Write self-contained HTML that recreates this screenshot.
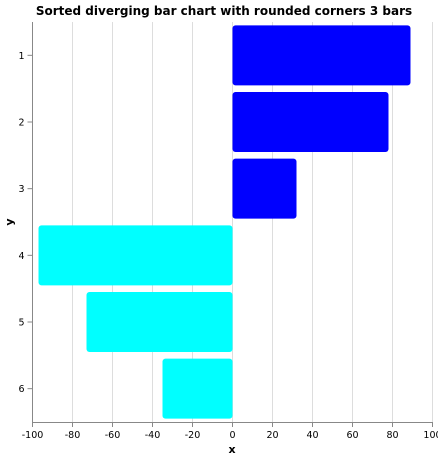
<!DOCTYPE html>
<html><head><meta charset="utf-8"><style>
body{margin:0;background:#fff;}
svg text{font-family:"DejaVu Sans","Liberation Sans",sans-serif;fill:#000;}
</style></head><body>
<svg id="chart" width="438" height="459">
<text x="224" y="15" text-anchor="middle" font-size="12" font-weight="bold">Sorted diverging bar chart with rounded corners 3 bars</text>
<g id="grid"></g><g id="bars"></g><g id="axes"></g>
<text x="232" y="453" text-anchor="middle" font-size="11" font-weight="bold">x</text>
<text transform="translate(13,222) rotate(-90)" text-anchor="middle" font-size="11" font-weight="bold">y</text>
</svg>
<script>
const categories=["1","2","3","4","5","6"];
const values=[89,78,32,-97,-73,-35];
const xTicks=[-100,-80,-60,-40,-20,0,20,40,60,80,100];
const NS="http://www.w3.org/2000/svg";
const L=32.5,R=432.5,T=22,B=422;
const xs=v=>L+(v+100)/200*(R-L);
const band=(B-T)/categories.length;
const ys=i=>T+i*band;
function mk(tag,attrs,parent){const e=document.createElementNS(NS,tag);for(const k in attrs)e.setAttribute(k,attrs[k]);parent.appendChild(e);return e;}
const grid=document.getElementById('grid'),bars=document.getElementById('bars'),axes=document.getElementById('axes');
xTicks.forEach(t=>{
 const g=mk('line',{x1:xs(t),x2:xs(t),y1:T,y2:B,stroke:'#ddd'},grid);
 
 
 const tk=mk('line',{x1:xs(t),x2:xs(t),y1:B,y2:B+5,stroke:'#888'},axes);
 
 
 const tx=mk('text',{x:xs(t),y:B+16,'text-anchor':'middle','font-size':9.5},axes);
 tx.textContent=t;
 
 
});
values.forEach((v,i)=>{
 const x0=Math.min(xs(0),xs(v)),w=Math.abs(xs(v)-xs(0));
 const r=mk('rect',{x:x0,y:ys(i)+band*0.05,width:w,height:band*0.9,rx:3,ry:3,fill:v>=0?'#0000ff':'#00ffff'},bars);
 
 
 const c=ys(i)+band/2;
 const tk=mk('line',{x1:L-5,x2:L,y1:c,y2:c,stroke:'#888'},axes);
 
 
 const tx=mk('text',{x:L-8,y:c+3.5,'text-anchor':'end','font-size':9.5},axes);
 tx.textContent=categories[i];
 
 
});
const xa=mk('line',{x1:L,x2:R,y1:B+0.5,y2:B+0.5,stroke:'#888'},axes);


const ya=mk('line',{x1:L,x2:L,y1:T,y2:B,stroke:'#888'},axes);


</script>
</body></html>
